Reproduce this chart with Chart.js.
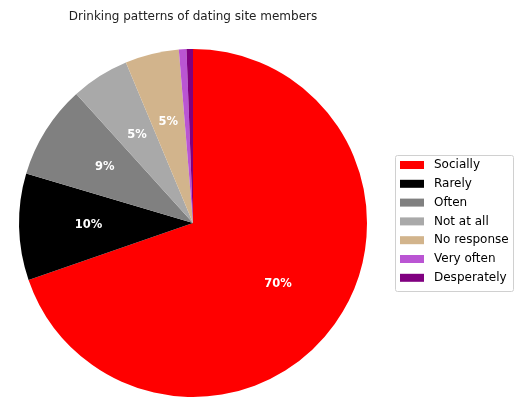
<!DOCTYPE html>
<html lang="en">
<head>
    <meta charset="UTF-8">
    <title>Drinking patterns</title>
    <script src="https://cdn.jsdelivr.net/npm/chart.js"></script>
    <style>
        html, body { margin: 0; padding: 0; background: #fff; }
        #wrap { position: relative; width: 521px; height: 404px; }
    </style>
</head>
<body>
    <div id="wrap"><canvas id="pieChart" width="521" height="404"></canvas></div>

    <script>
        const categories = ['Socially', 'Rarely', 'Often', 'Not at all', 'No response', 'Very often', 'Desperately'];
        const shares = [69.7, 9.9, 8.7, 5.4, 5.0, 0.7, 0.6];
        const colours = ['#ff0000', '#000000', '#808080', '#a9a9a9', '#d2b48c', '#ba55d3', '#800080'];
        const titleText = 'Drinking patterns of dating site members';

        const font = "'DejaVu Sans', sans-serif";

        // percent labels inside the slices, like autopct
        const sliceLabels = {
            id: 'sliceLabels',
            afterDatasetsDraw(chart) {
                const ctx = chart.ctx;
                const meta = chart.getDatasetMeta(0);
                const total = shares.reduce((a, b) => a + b, 0);
                ctx.save();
                ctx.fillStyle = '#fff';
                ctx.font = 'bold 11.5px ' + font;
                ctx.textAlign = 'center';
                ctx.textBaseline = 'middle';
                meta.data.forEach((arc, i) => {
                    const pct = shares[i] / total * 100;
                    if (pct < 2) return;
                    const mid = (arc.startAngle + arc.endAngle) / 2;
                    const r = arc.outerRadius * 0.6;
                    ctx.fillText(Math.round(pct) + '%', arc.x + Math.cos(mid) * r, arc.y + Math.sin(mid) * r);
                });
                ctx.restore();
            }
        };

        // title and boxed legend on the right
        const extras = {
            id: 'extras',
            afterDraw(chart) {
                const ctx = chart.ctx;
                ctx.save();
                ctx.fillStyle = '#222';
                ctx.font = '12px ' + font;
                ctx.textAlign = 'center';
                ctx.textBaseline = 'middle';
                ctx.fillText(titleText, 193, 17);

                const lx = 395, ly = 155, lw = 118, lh = 136;
                ctx.strokeStyle = '#d0d0d0';
                ctx.lineWidth = 1;
                ctx.beginPath();
                ctx.roundRect(lx + 0.5, ly + 0.5, lw, lh, 2);
                ctx.stroke();

                ctx.font = '12px ' + font;
                ctx.textAlign = 'left';
                categories.forEach((c, i) => {
                    const y = 165 + i * 18.8;
                    ctx.fillStyle = colours[i];
                    ctx.fillRect(400, y - 4, 24, 8);
                    ctx.fillStyle = '#000';
                    ctx.fillText(c, 434, y);
                });
                ctx.restore();
            }
        };

        new Chart(document.getElementById('pieChart'), {
            type: 'pie',
            data: {
                labels: categories,
                datasets: [{
                    data: shares,
                    backgroundColor: colours,
                    borderWidth: 0
                }]
            },
            options: {
                responsive: false,
                animation: false,
                layout: { padding: { left: 19, right: 154, top: 49, bottom: 7 } },
                plugins: {
                    legend: { display: false },
                    tooltip: { enabled: false }
                }
            },
            plugins: [sliceLabels, extras]
        });
    </script>
</body>
</html>
